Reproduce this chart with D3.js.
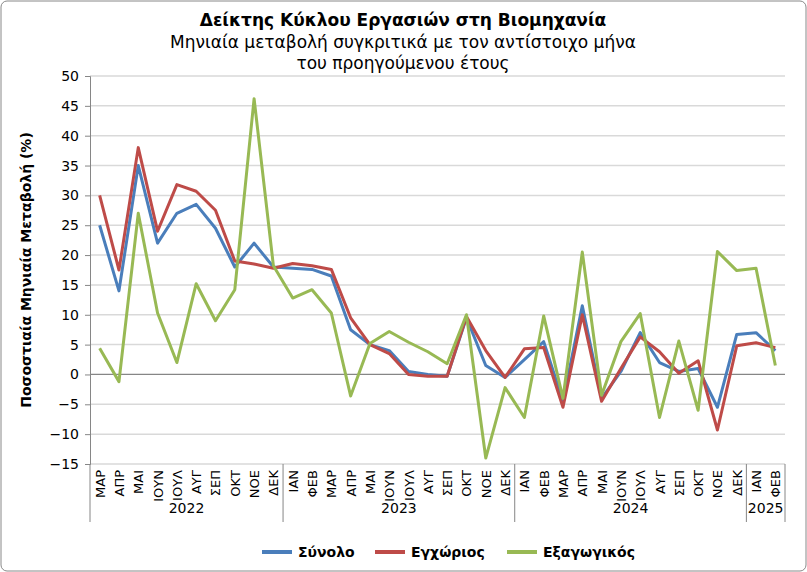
<!DOCTYPE html>
<html><head><meta charset="utf-8">
<script src="https://cdn.jsdelivr.net/npm/d3@7"></script>
<style>body{margin:0;background:#fff;font-family:Verdana,"DejaVu Sans",sans-serif}</style>
</head><body><svg id="c" width="807" height="572"></svg>
<script>
const months = ['ΜΑΡ','ΑΠΡ','ΜΑΙ','ΙΟΥΝ','ΙΟΥΛ','ΑΥΓ','ΣΕΠ','ΟΚΤ','ΝΟΕ','ΔΕΚ',
  'ΙΑΝ','ΦΕΒ','ΜΑΡ','ΑΠΡ','ΜΑΙ','ΙΟΥΝ','ΙΟΥΛ','ΑΥΓ','ΣΕΠ','ΟΚΤ','ΝΟΕ','ΔΕΚ',
  'ΙΑΝ','ΦΕΒ','ΜΑΡ','ΑΠΡ','ΜΑΙ','ΙΟΥΝ','ΙΟΥΛ','ΑΥΓ','ΣΕΠ','ΟΚΤ','ΝΟΕ','ΔΕΚ',
  'ΙΑΝ','ΦΕΒ']
const years = [{label:'2022', n:10},{label:'2023', n:12},{label:'2024', n:12},{label:'2025', n:2}]
const total = [25,14,35,22,27,28.5,24.5,18,22,18, 17.8,17.6,16.5,7.5,5,4,0.5,0,-0.3,9.5,1.5,-0.5,
  2.5,5.5,-4.5,11.5,-4,0.5,7,2,0.5,1,-5.5,6.7,7,4]
const domestic = [30,17.5,38,24,31.8,30.7,27.5,19,18.5,17.8, 18.6,18.2,17.6,9.5,5,3.5,0,-0.3,-0.3,9.7,4,-0.5,
  4.3,4.5,-5.5,10,-4.5,1,6.3,3.8,0.2,2.3,-9.3,4.8,5.3,4.5]
const exportv = [4.4,-1.2,27,10.3,2,15.2,9,14.2,46.2,18.2, 12.8,14.2,10.3,-3.6,5.2,7.2,5.4,3.8,1.8,10,-14,-2.2,
  -7.2,9.8,-4,20.5,-3.5,5.5,10.2,-7.2,5.6,-6,20.6,17.4,17.8,1.5]
const series = [
  {name:'Σύνολο', values: total, color:'#4a7ebb'},
  {name:'Εγχώριος', values: domestic, color:'#be4b48'},
  {name:'Εξαγωγικός', values: exportv, color:'#98b954'}]
const yTicks = d3.range(-15, 51, 5)

const svg = d3.select('#c')
const L = 90, R = 785, T = 76, B = 464

svg.append('rect').attr('x',1).attr('y',1).attr('width',805).attr('height',570)
  .attr('rx',6).attr('fill','#fff').attr('stroke','#888')

const x = d3.scaleBand().domain(d3.range(months.length)).range([L, R])
const y = d3.scaleLinear().domain([-15, 50]).range([B, T])

// gridlines
svg.append('g').selectAll('line').data(yTicks).join('line')
  .attr('x1', L).attr('x2', R).attr('y1', d => y(d)).attr('y2', d => y(d))
  .attr('stroke', d => d === 0 ? '#868686' : '#d9d9d9').attr('stroke-width', d => d === 0 ? 1.2 : 1.5)

const yAxis = svg.append('g').attr('transform', `translate(${L},0)`)
  .call(d3.axisLeft(y).tickValues(yTicks).tickSize(5).tickPadding(6))
yAxis.selectAll('path,line').attr('stroke', '#868686')
yAxis.selectAll('text').attr('font-size', 14).attr('font-family', 'Verdana,"DejaVu Sans",sans-serif').attr('fill', '#000')

// category labels
svg.append('g').selectAll('text').data(months).join('text')
  .attr('transform', (d, i) => `translate(${x(i) + x.bandwidth()/2 + 5},${B + 6}) rotate(-90)`)
  .attr('text-anchor', 'end').attr('font-size', 13).text(d => d)

// year groups
let start = 0
const yg = svg.append('g')
yg.append('line').attr('x1', L).attr('x2', L).attr('y1', B).attr('y2', 522).attr('stroke', '#868686')
years.forEach(g => {
  const x0 = x(start), x1 = x(start + g.n - 1) + x.bandwidth()
  yg.append('line').attr('x1', x1).attr('x2', x1).attr('y1', B).attr('y2', 522).attr('stroke', '#868686')
  yg.append('text').attr('x', (x0 + x1) / 2).attr('y', 513).attr('text-anchor', 'middle')
    .attr('font-size', 14).text(g.label)
  start += g.n
})

const line = d3.line().x((d, i) => x(i) + x.bandwidth()/2).y(d => y(d))
svg.append('g').selectAll('path').data(series).join('path')
  .attr('d', s => line(s.values)).attr('fill', 'none')
  .attr('stroke', s => s.color).attr('stroke-width', 3).attr('stroke-linejoin', 'round')

// titles
svg.append('text').attr('x', 403).attr('y', 26).attr('text-anchor', 'middle')
  .attr('font-size', 17).attr('font-weight', 'bold').text('Δείκτης Κύκλου Εργασιών στη Βιομηχανία')
svg.append('text').attr('x', 403).attr('y', 48).attr('text-anchor', 'middle')
  .attr('font-size', 17).text('Μηνιαία μεταβολή συγκριτικά με τον αντίστοιχο μήνα')
svg.append('text').attr('x', 403).attr('y', 69).attr('text-anchor', 'middle')
  .attr('font-size', 17).text('του προηγούμενου έτους')
svg.append('text').attr('transform', `translate(31,${(T + B) / 2}) rotate(-90)`)
  .attr('text-anchor', 'middle').attr('font-size', 14).attr('font-weight', 'bold')
  .text('Ποσοστιαία Μηνιαία Μεταβολή (%)')

// legend
const lg = svg.append('g').selectAll('g').data(series).join('g')
  .attr('transform', (d, i) => `translate(${[262, 375, 507][i]},552)`)
lg.append('line').attr('x1', 0).attr('x2', 30).attr('stroke', d => d.color).attr('stroke-width', 4)
lg.append('text').attr('x', 36).attr('y', 5).attr('font-size', 14).attr('font-weight', 'bold').text(d => d.name)
</script></body></html>
